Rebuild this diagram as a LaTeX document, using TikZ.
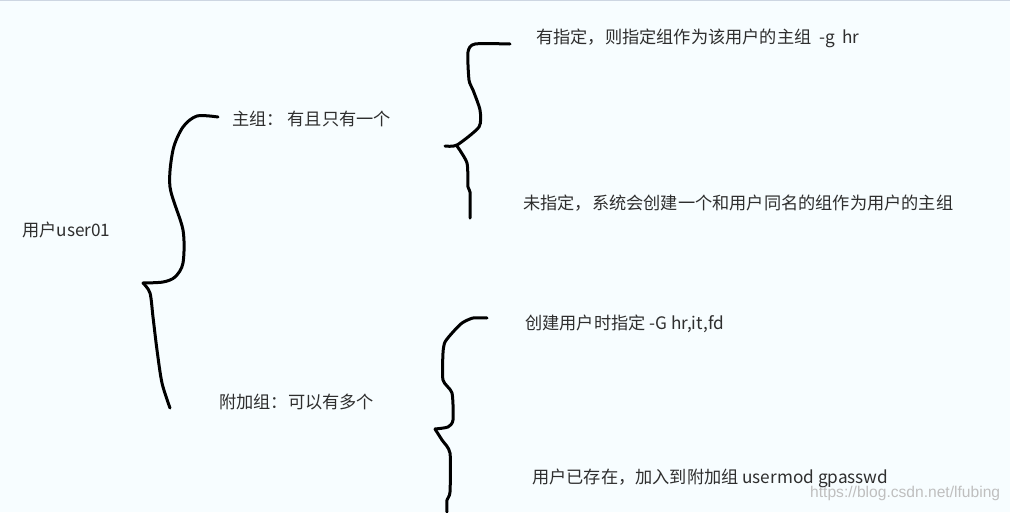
\documentclass[tikz,border=0pt]{standalone}
\usepackage{fontspec}
\newfontfamily\cjk{Noto Sans CJK SC}
\newfontfamily\wm{Liberation Sans}
\begin{document}
\begin{tikzpicture}[x=1pt,y=-1pt,
  lbl/.style={anchor=west,inner sep=0pt,text=black!82,font=\cjk\fontsize{17.2}{20}\selectfont},
  brace/.style={line width=3pt,line cap=round,line join=round,black}]
\useasboundingbox (0,0) rectangle (1010,512);
\fill[white!97!cyan] (0,0) rectangle (1010,512);
\draw[line width=1.2pt,color={rgb,255:red,205;green,214;blue,226}] (0,0.6) -- (1010,0.6);

% texts
\node[lbl] (user) at (22,230) {用户user01};
\node[lbl] (main) at (232,119) {主组： 有且只有一个};
\node[lbl] (extra) at (219,402) {附加组：可以有多个};
\node[lbl] (m1) at (536,38) {有指定，则指定组作为该用户的主组 \ -g \ hr};
\node[lbl] (m2) at (523,203) {未指定，系统会创建一个和用户同名的组作为用户的主组};
\node[lbl] (e1) at (525,324) {创建用户时指定 -G hr,it,fd};
\node[lbl] (e2) at (532,478) {用户已存在，加入到附加组 usermod gpasswd};
\node[anchor=west,inner sep=0pt,text=black!25,font=\wm\fontsize{15.6}{18}\selectfont] (wmk) at (810,493) {https://blog.csdn.net/lfubing};

% brace 1
\draw[brace] plot[smooth,tension=0.5] coordinates {(218,117) (197,116) (183,127) (173,150) (170,187) (183,230) (183,263) (175,277) (163,282) (143,283)};
\draw[brace] plot[smooth,tension=0.5] coordinates {(143,283) (150,293) (153,317) (157,350) (162,383) (170,408)};

% brace 2
\draw[brace] plot[smooth,tension=0.4] coordinates {(510,44) (475,44) (468,52) (469,80) (473,90) (480,110) (479,127) (457,145) (445,146)};
\draw[brace] plot[smooth,tension=0.4] coordinates {(457,146) (467,163) (468,187) (470,192) (470,218)};

% brace 3
\draw[brace] plot[smooth,tension=0.4] coordinates {(487,318) (473,318) (462,323) (453,332) (445,342) (443,353) (443,380) (452,393) (453,420) (448,427) (435,429)};
\draw[brace] plot[smooth,tension=0.4] coordinates {(435,429) (442,440) (450,453) (450,492) (447,500) (447,512)};
\end{tikzpicture}
\end{document}
